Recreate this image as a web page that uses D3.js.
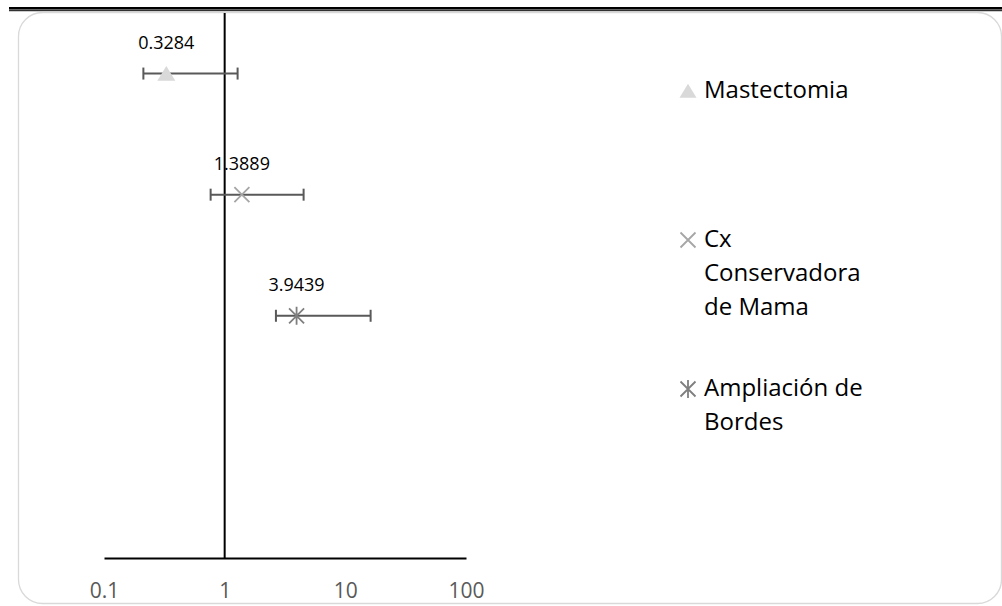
<!DOCTYPE html>
<html>
<head>
<meta charset="utf-8">
<script src="https://cdn.jsdelivr.net/npm/d3@7/dist/d3.min.js"></script>
<style>
  html, body { margin: 0; padding: 0; background: #fff; }
  svg { display: block; }
  text { font-family: "Open Sans", "Noto Sans", sans-serif; }
</style>
</head>
<body>
<svg id="chart" width="1002" height="606"></svg>
<script>
// Odds ratios with 95% confidence intervals, one row per procedure
const groups   = ["Mastectomia", "Cx Conservadora de Mama", "Ampliación de Bordes"];
const oddsRatio = [0.3284, 1.3889, 3.9439];
const ciLow     = [0.212, 0.765, 2.66];
const ciHigh    = [1.28, 4.51, 16.2];
const rowPos    = [4, 3, 2];
const xTicks    = [0.1, 1, 10, 100];
const legendLines = [["Mastectomia"], ["Cx", "Conservadora", "de Mama"], ["Ampliación de", "Bordes"]];

const svg = d3.select("#chart");

// header rule (thick + thin)
svg.append("rect").attr("x", 9).attr("y", 7).attr("width", 993).attr("height", 2.6).attr("fill", "#000");
svg.append("rect").attr("x", 9).attr("y", 10.2).attr("width", 993).attr("height", 1).attr("fill", "#000");

// chart frame
svg.append("rect")
  .attr("x", 18.5).attr("y", 12.5).attr("width", 983).attr("height", 591)
  .attr("rx", 24).attr("ry", 24)
  .attr("fill", "none").attr("stroke", "#d9d9d9").attr("stroke-width", 1.3);

const x = d3.scaleLog().domain([0.1, 100]).range([104, 466]);
const y = d3.scaleLinear().domain([0, 4.5]).range([558, 13]);

// horizontal axis
const xAxis = d3.axisBottom(x).tickValues(xTicks).tickSize(0).tickPadding(0)
  .tickFormat(d => d3.format("")(d));
const gx = svg.append("g").attr("transform", `translate(0,${y(0)})`).call(xAxis);
gx.select(".domain").attr("stroke", "#000").attr("stroke-width", 2);
gx.selectAll("text")
  .attr("fill", "#595959").attr("font-size", 21).attr("dy", null).attr("y", 40);

// vertical reference line at OR = 1
svg.append("line")
  .attr("x1", x(1)).attr("x2", x(1)).attr("y1", y(4.5)).attr("y2", y(0))
  .attr("stroke", "#000").attr("stroke-width", 2);

const rows = groups.map((g, i) => ({ g, i, v: oddsRatio[i], lo: ciLow[i], hi: ciHigh[i], p: rowPos[i] }));

// error bars
const eb = svg.append("g").attr("stroke", "#595959").attr("stroke-width", 2);
rows.forEach(r => {
  const yy = y(r.p);
  eb.append("line").attr("x1", x(r.lo)).attr("x2", x(r.hi)).attr("y1", yy).attr("y2", yy);
  [r.lo, r.hi].forEach(e =>
    eb.append("line").attr("x1", x(e)).attr("x2", x(e)).attr("y1", yy - 6).attr("y2", yy + 6));
});

// marker drawers
function drawMarker(g, i, cx, cy, s) {
  if (i === 0) {
    g.append("path")
      .attr("d", `M${cx},${cy - s * 0.85}L${cx + s},${cy + s * 0.8}L${cx - s},${cy + s * 0.8}Z`)
      .attr("fill", "#d9d9d9");
  } else if (i === 1) {
    g.append("path")
      .attr("d", `M${cx - s},${cy - s}L${cx + s},${cy + s}M${cx - s},${cy + s}L${cx + s},${cy - s}`)
      .attr("stroke", "#a6a6a6").attr("stroke-width", 1.8).attr("fill", "none");
  } else {
    g.append("path")
      .attr("d", `M${cx - s},${cy - s}L${cx + s},${cy + s}M${cx - s},${cy + s}L${cx + s},${cy - s}M${cx},${cy - s * 1.2}L${cx},${cy + s * 1.2}`)
      .attr("stroke", "#7f7f7f").attr("stroke-width", 1.8).attr("fill", "none");
  }
}

const marks = svg.append("g");
rows.forEach(r => drawMarker(marks, r.i, x(r.v), y(r.p), r.i === 0 ? 9 : 7.5));

// value labels
svg.append("g").selectAll("text").data(rows).join("text")
  .attr("x", d => x(d.v)).attr("y", d => y(d.p) - 25)
  .attr("text-anchor", "middle").attr("font-size", 18).attr("fill", "#000")
  .text(d => d.v.toFixed(4));

// legend
const legendTop = [91, 240, 389];
const lg = svg.append("g");
legendLines.forEach((lines, i) => {
  drawMarker(lg, i, 688, legendTop[i], i === 0 ? 8.5 : 7.5);
  lines.forEach((t, k) => {
    lg.append("text")
      .attr("x", 704).attr("y", legendTop[i] + k * 34 + 7)
      .attr("font-size", 24).attr("fill", "#000")
      .text(t);
  });
});
</script>
</body>
</html>
